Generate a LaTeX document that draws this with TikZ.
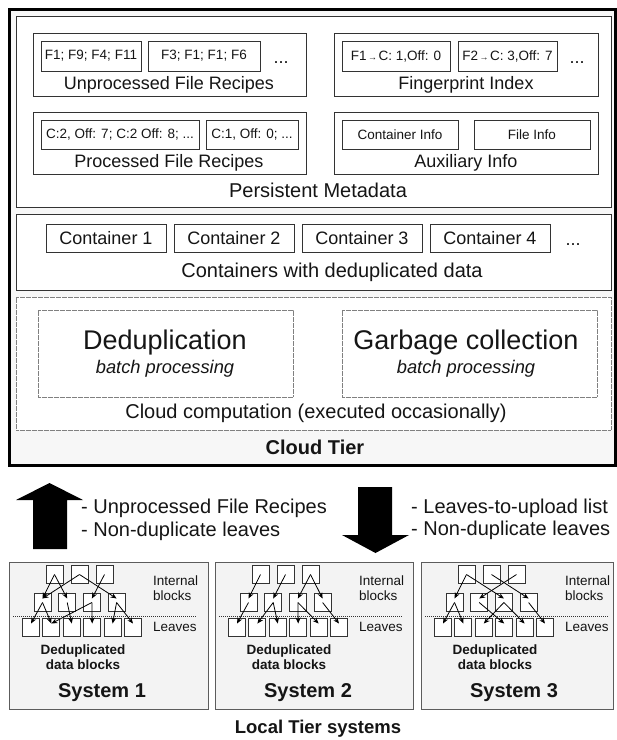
\documentclass[tikz,border=0pt]{standalone}
\usepackage{fontspec}
\setmainfont{Liberation Sans}
\usetikzlibrary{arrows.meta,fit}
\definecolor{ln}{HTML}{333333}
\definecolor{tx}{HTML}{151515}
\definecolor{cloudbg}{HTML}{F7F7F7}
\definecolor{sysbg}{HTML}{F3F3F3}
\tikzset{
 fs/.style={font=\fontsize{#1}{#1}\selectfont},
 fsb/.style={font=\fontsize{#1}{#1}\selectfont\bfseries},
 box/.style={draw=ln, line width=0.9pt, fill=white, inner sep=0pt},
 ibox/.style={draw=ln, line width=0.9pt, fill=white, inner sep=0pt, fs=13.5, text=tx},
 lbl/.style={inner sep=0pt, text=tx},
 dotbox/.style={draw=gray, line width=0.8pt, dash pattern=on 0.6pt off 0.6pt, fill=white, inner sep=0pt},
 sysbox/.style={draw=ln!80, line width=0.9pt, fill=sysbg, inner sep=0pt},
 tb/.style={draw=ln, line width=1pt, fill=white, minimum width=17pt, minimum height=17.5pt, inner sep=0pt},
 tarr/.style={-{Stealth[length=6pt,width=5pt]}, line width=0.8pt, draw=black},
 sepline/.style={draw=ln, line width=0.8pt, dash pattern=on 1pt off 1pt},
}
\newcommand{\drawsystem}[5]{%
  \node[sysbox, fit={(#2,562) (#3,709)}] (#1box) {};
  \foreach \i/\dx in {1/45.5,2/70.5,3/95.5}
    \node[tb] (#1t\i) at ({#2+\dx},574.5) {};
  \foreach \i/\dx in {1/33.5,2/58.2,3/82.9,4/107.6}
    \node[tb] (#1m\i) at ({#2+\dx},602.5) {};
  \foreach \i/\dx in {1/22,2/42.4,3/62.8,4/83.2,5/103.6,6/124}
    \node[tb] (#1l\i) at ({#2+\dx},627.5) {};
  \coordinate (#1sa) at ({#2+4},616);
  \coordinate (#1sb) at ({#2+188},616);
  \draw[sepline] (#1sa) -- (#1sb);
  \foreach \a/\b in {#5}
    \draw[tarr] (#1\a.center) -- ([yshift=4pt]#1\b.center);
  \node[lbl, fs=13.5, anchor=west] (#1int) at ({#2+144},581) {Internal};
  \node[lbl, fs=13.5, anchor=west] (#1blk) at ({#2+144},596) {blocks};
  \node[lbl, fs=13.5, anchor=west] (#1lv) at ({#2+144},627) {Leaves};
  \node[lbl, font=\fontsize{13.5}{14.5}\selectfont\bfseries, align=center] (#1dd) at ({#2+74},657) {Deduplicated\\data blocks};
  \node[lbl, fsb=20] (#1name) at ({#2+93},693) {System #4};
}
\begin{document}
\begin{tikzpicture}[x=1pt,y=-1pt]
\useasboundingbox (0,0) rectangle (617,740);
% cloud tier
\node[draw=black, line width=3pt, fill=cloudbg, inner sep=0pt, fit={(9,9) (615,465)}] (cloud) {};
\node[box, fit={(16,16) (611,207)}] (pm) {};
\node[box, fit={(33,33) (306,96)}] (unp) {};
\node[box, fit={(33,112) (306,174)}] (proc) {};
\node[box, fit={(334,33) (598,96)}] (fpi) {};
\node[box, fit={(334,112) (598,174)}] (aux) {};
\node[ibox, minimum width=100pt, minimum height=30pt] (u1) at (91,56) {F1; F9; F4; F11};
\node[ibox, minimum width=112pt, minimum height=30pt] (u2) at (204,56) {F3; F1; F1; F6};
\node[lbl, fs=18] (ud) at (281,63) {...};
\node[lbl, fs=18] (unpl) at (169,85) {Unprocessed File Recipes};
\node[ibox, minimum width=158pt, minimum height=29pt] (p1) at (120,134.5) {C:2, Off: 7; C:2 Off: 8; ...};
\node[ibox, minimum width=92pt, minimum height=29pt] (p2) at (252,134.5) {C:1, Off: 0; ...};
\node[lbl, fs=18] (procl) at (169,163) {Processed File Recipes};
\node[ibox, minimum width=108pt, minimum height=30pt] (f1) at (396,56) {F1{\fontsize{9}{9}\selectfont\,→\,}C: 1,Off: 0};
\node[ibox, minimum width=99pt, minimum height=30pt] (f2) at (507.5,56) {F2{\fontsize{9}{9}\selectfont\,→\,}C: 3,Off: 7};
\node[lbl, fs=18] (fd) at (577,63) {...};
\node[lbl, fs=18] (fpil) at (466,85) {Fingerprint Index};
\node[ibox, minimum width=116pt, minimum height=29pt] (a1) at (400,134.5) {Container Info};
\node[ibox, minimum width=116pt, minimum height=29pt] (a2) at (532,134.5) {File Info};
\node[lbl, fs=18] (auxl) at (466,163) {Auxiliary Info};
\node[lbl, fs=20] (pml) at (318,190) {Persistent Metadata};
% containers
\node[box, fit={(16,214) (611,290)}] (cont) {};
\foreach \i/\cx in {1/106,2/234,3/362,4/490}
  \node[ibox, fs=18, minimum width=120pt, minimum height=28pt] (c\i) at (\cx,238) {Container \i};
\node[lbl, fs=18] (cd) at (573,245) {...};
\node[lbl, fs=20] (contl) at (332,272) {Containers with deduplicated data};
% cloud computation
\node[dotbox, fit={(16,297) (611,430)}] (cc) {};
\node[dotbox, fit={(38,310) (293,397)}] (dd) {};
\node[dotbox, fit={(342,310) (597,397)}] (gc) {};
\node[lbl, fs=27] (ddt) at (165,343) {Deduplication};
\node[lbl, fs=18.3] (ddb) at (165,369) {\itshape batch processing};
\node[lbl, fs=27] (gct) at (466,343) {Garbage collection};
\node[lbl, fs=18.3] (gcb) at (466,369) {\itshape batch processing};
\node[lbl, fs=20] (ccl) at (316,413) {Cloud computation (executed occasionally)};
\node[lbl, fsb=20] (cloudl) at (315,447) {Cloud Tier};
% big arrows
\fill[black] (33,549) -- (33,500) -- (16,500) -- (49.5,483) -- (83,500) -- (67,500) -- (67,549) -- cycle;
\fill[black] (358,487) -- (392,487) -- (392,535) -- (409,535) -- (375.5,553) -- (342,535) -- (358,535) -- cycle;
\node[lbl, fs=20, anchor=west] (up1) at (81,508) {- Unprocessed File Recipes};
\node[lbl, fs=20, anchor=west] (up2) at (81,531) {- Non-duplicate leaves};
\node[lbl, fs=20, anchor=west] (dn1) at (411,508) {- Leaves-to-upload list};
\node[lbl, fs=20, anchor=west] (dn2) at (411,530) {- Non-duplicate leaves};
% systems
\drawsystem{sa}{9}{208}{1}{t1/m1,t1/m2,t2/m1,t2/m4,t3/m3,m1/l1,m1/l2,m2/l3,m3/l2,m3/l4,m4/l5,m4/l6}
\drawsystem{sb}{215}{413}{2}{t1/m1,t2/m2,t3/m3,t3/m4,m1/l1,m2/l2,m2/l3,m3/l4,m3/l5,m4/l6}
\drawsystem{sc}{421}{613}{3}{t1/m1,t1/m3,t3/m2,t2/m4,m1/l1,m1/l2,m2/l4,m3/l3,m3/l5,m4/l6}
\node[lbl, fsb=18.5] (local) at (318,729) {Local Tier systems};
\end{tikzpicture}
\end{document}
